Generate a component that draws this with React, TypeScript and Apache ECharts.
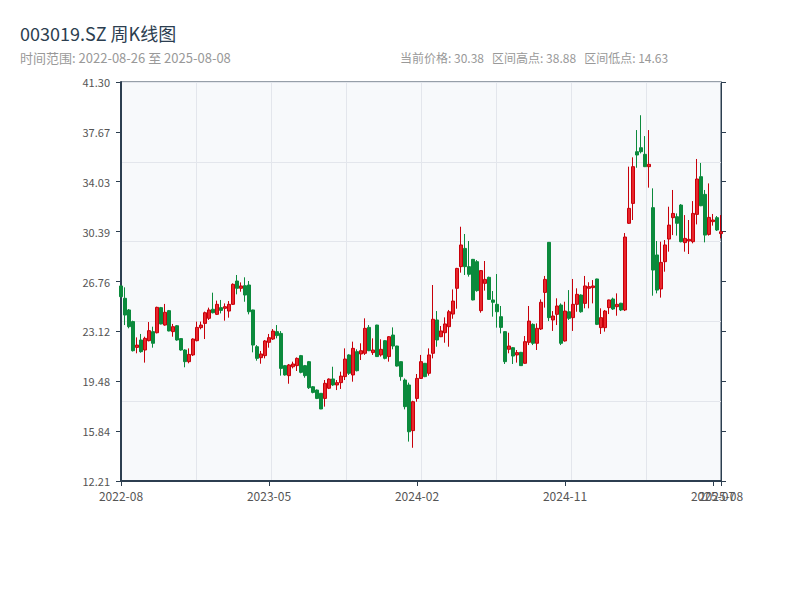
import React, { useEffect, useRef } from "react";
import * as echarts from "echarts";

const startDate = "2022-08-26";
const endDate = "2025-08-08";
// weeks without any trading day (holiday weeks)
const skippedWeeks = ["2022-10-07", "2023-01-27", "2023-10-06", "2024-02-16"];

const opens = [
  26.43, 25.53, 24.68, 23.83, 21.95, 22.49, 21.76, 22.44, 23.1, 23.02,
  24.85, 23.58, 24.63, 23.1, 23.53, 22.59, 21.76, 20.91, 21.4, 22.44,
  23.39, 23.7, 24.07, 24.73, 24.36, 24.85, 24.8, 24.6, 25.09, 26.79,
  26.26, 26.45, 26.5, 24.68, 22.0, 21.2, 21.35, 22.32, 22.56, 23.1,
  22.97, 20.62, 19.89, 20.54, 20.62, 21.35, 20.62, 20.91, 19.08, 18.84,
  18.6, 18.23, 18.97, 19.65, 19.21, 19.38, 19.82, 21.4, 19.94, 21.64,
  21.47, 21.52, 23.41, 21.57, 23.58, 21.4, 22.44, 21.28, 22.85, 22.05,
  20.91, 19.57, 19.21, 15.88, 18.23, 19.69, 20.79, 20.06, 21.52, 23.95,
  22.73, 23.02, 23.46, 24.38, 26.26, 27.84, 29.17, 27.84, 28.37, 28.2,
  24.63, 26.62, 27.06, 25.41, 25.09, 24.19, 23.1, 21.81, 21.93, 21.4,
  21.59, 20.79, 22.32, 23.63, 22.25, 23.29, 25.96, 29.61, 23.95, 24.36,
  25.04, 22.42, 24.55, 24.12, 25.09, 25.77, 25.16, 26.26, 26.31, 26.94,
  23.39, 23.39, 24.85, 25.48, 24.92, 25.17, 24.68, 31.0, 32.45, 36.22,
  36.51, 36.03, 35.13, 32.14, 28.69, 26.21, 28.2, 29.85, 31.41, 31.48,
  32.33, 29.59, 29.71, 29.66, 31.65, 34.4, 33.11, 30.19, 31.12, 31.41,
  30.25,
];

const closes = [
  25.65, 24.31, 23.46, 21.71, 22.12, 21.64, 22.61, 23.17, 22.25, 24.87,
  23.66, 24.51, 23.15, 23.46, 22.49, 21.76, 20.91, 21.44, 22.56, 23.41,
  23.58, 24.48, 24.68, 24.48, 25.09, 24.65, 24.92, 25.09, 26.55, 26.26,
  26.43, 25.77, 24.55, 22.12, 21.15, 21.47, 22.42, 22.66, 23.14, 22.81,
  20.42, 19.94, 20.67, 20.74, 21.15, 20.13, 19.89, 19.01, 18.67, 18.23,
  17.46, 19.33, 19.64, 19.21, 19.38, 19.86, 21.1, 20.06, 21.88, 20.25,
  21.71, 23.34, 21.71, 21.76, 21.28, 21.81, 21.15, 22.73, 22.05, 20.59,
  19.82, 17.63, 15.8, 17.99, 19.69, 20.91, 19.82, 21.4, 24.0, 22.49,
  23.15, 23.66, 24.55, 25.33, 27.71, 29.42, 27.84, 27.28, 25.41, 26.09,
  27.55, 26.91, 25.45, 25.24, 24.55, 23.41, 20.91, 22.05, 21.32, 21.57,
  20.62, 22.37, 23.87, 22.25, 23.34, 25.24, 26.91, 24.12, 24.24, 24.97,
  22.25, 24.6, 24.07, 25.09, 25.82, 24.55, 26.43, 26.38, 26.43, 23.63,
  24.12, 24.6, 25.41, 24.75, 25.09, 24.68, 30.0, 32.09, 35.13, 35.98,
  36.22, 35.13, 35.3, 27.59, 26.13, 28.15, 29.42, 30.87, 31.72, 31.0,
  29.66, 29.9, 29.83, 31.72, 34.23, 32.28, 30.14, 31.43, 31.24, 30.51,
  30.38,
];

const lows = [
  25.6, 23.58, 23.34, 21.65, 21.52, 21.56, 20.84, 22.39, 21.93, 22.97,
  23.63, 23.53, 23.12, 22.73, 22.44, 21.71, 20.5, 20.79, 21.32, 22.39,
  23.27, 22.56, 23.95, 24.43, 24.31, 24.43, 23.9, 24.12, 25.04, 25.82,
  26.01, 25.28, 24.36, 21.59, 20.98, 20.76, 21.15, 21.93, 22.49, 22.61,
  19.89, 19.89, 19.3, 20.42, 20.23, 20.06, 19.74, 18.92, 18.6, 18.18,
  17.45, 17.63, 18.91, 19.14, 18.84, 18.92, 19.57, 19.94, 19.45, 20.2,
  21.03, 21.4, 21.68, 21.4, 21.25, 21.28, 21.08, 20.91, 21.81, 20.55,
  19.52, 17.43, 15.08, 14.63, 17.99, 19.65, 19.78, 19.89, 21.15, 22.0,
  22.7, 22.29, 22.0, 24.04, 24.77, 27.4, 27.23, 27.11, 25.38, 26.01,
  24.48, 26.09, 25.41, 24.19, 23.39, 22.97, 20.74, 21.52, 20.74, 20.84,
  20.6, 20.75, 22.12, 22.12, 21.76, 23.22, 24.85, 23.87, 23.15, 23.58,
  22.12, 22.37, 23.95, 23.15, 24.55, 24.48, 24.8, 24.8, 25.16, 23.58,
  22.93, 23.1, 24.38, 24.68, 24.26, 24.6, 24.6, 30.95, 31.24, 35.05,
  36.1, 35.1, 33.6, 25.72, 25.89, 25.58, 27.47, 28.93, 30.14, 30.1,
  29.61, 28.93, 28.76, 29.54, 30.92, 32.25, 29.61, 30.1, 30.83, 30.44,
  29.9,
];

const highs = [
  26.5, 26.33, 24.75, 23.9, 22.68, 22.93, 22.73, 23.8, 23.46, 24.92,
  24.9, 25.12, 24.68, 23.66, 23.58, 22.61, 21.81, 21.88, 22.61, 23.83,
  23.83, 24.56, 24.85, 25.94, 25.36, 25.41, 25.16, 25.33, 26.62, 27.23,
  26.69, 27.06, 26.79, 24.7, 22.12, 21.69, 22.49, 22.93, 23.29, 23.58,
  23.14, 20.67, 20.74, 20.91, 21.22, 21.4, 20.67, 20.96, 19.13, 18.88,
  18.62, 19.57, 19.69, 20.54, 19.57, 20.18, 21.88, 21.45, 22.37, 21.81,
  22.25, 24.07, 23.58, 22.61, 23.6, 22.54, 22.49, 22.78, 23.41, 22.07,
  20.93, 19.69, 19.38, 18.06, 20.01, 21.4, 20.81, 21.88, 26.5, 24.6,
  23.51, 24.14, 24.68, 26.18, 27.75, 30.75, 30.22, 29.71, 28.4, 28.32,
  27.59, 28.25, 27.11, 26.06, 27.3, 24.97, 23.14, 23.02, 21.98, 21.76,
  21.62, 22.78, 24.97, 23.7, 23.7, 25.45, 27.16, 29.63, 24.6, 25.53,
  25.16, 25.28, 26.13, 26.94, 26.26, 25.82, 27.16, 26.7, 26.86, 26.96,
  24.8, 24.68, 25.43, 25.58, 25.89, 25.2, 30.29, 35.13, 35.81, 37.8,
  38.88, 37.36, 37.8, 33.55, 29.71, 29.66, 29.78, 32.21, 33.43, 31.72,
  32.4, 31.6, 31.24, 32.62, 35.69, 35.4, 33.43, 33.91, 31.68, 31.53,
  31.6,
];

const yMin = 12.2075;
const yInterval = 3.63705;
const ySplits = 8;
const labelEvery = 37;

function buildDates(): string[] {
  const out: string[] = [];
  const skip = new Set(skippedWeeks);
  const end = Date.parse(endDate + "T00:00:00Z");
  for (let t = Date.parse(startDate + "T00:00:00Z"); t <= end; t += 7 * 86400000) {
    const s = new Date(t).toISOString().slice(0, 10);
    if (!skip.has(s)) out.push(s);
  }
  return out;
}

const FONT = "'Noto Sans CJK SC', 'Noto Sans', sans-serif";
const AXIS_DARK = "#2c3e50";
const GAP = "\u00a0\u00a0\u00a0";

export default function App() {
  const ref = useRef<HTMLDivElement>(null);

  useEffect(() => {
    document.body.style.margin = "0";
    if (!ref.current) return;
    const chart = echarts.init(ref.current, undefined, { renderer: "svg" });
    const dates = buildDates();
    const n = dates.length;
    const kdata = opens.map((o, i) => [o, closes[i], lows[i], highs[i]]);
    const current = closes[closes.length - 1];
    const hi = Math.max(...highs);
    const lo = Math.min(...lows);
    const yMax = yMin + yInterval * ySplits;
    const tickIdx = (i: number) => i % labelEvery === 0 || i === n - 1;
    const labelIdx = (i: number) => i % labelEvery === 0;
    const lastIdx = (i: number) => i === n - 1;
    const labelStyle = {
      formatter: (v: string) => v.slice(0, 7),
      color: "#555",
      fontSize: 12,
      fontFamily: FONT,
      hideOverlap: false,
    };

    chart.setOption({
      animation: false,
      textStyle: { fontFamily: FONT },
      title: {
        text: "003019.SZ 周K线图",
        subtext: `时间范围: ${dates[0]} 至 ${dates[n - 1]}`,
        left: 15,
        top: 19,
        itemGap: 9,
        textStyle: { fontSize: 18, fontWeight: "normal", color: AXIS_DARK, fontFamily: FONT },
        subtextStyle: { fontSize: 13, color: "#999", fontFamily: FONT },
      },
      graphic: [
        {
          type: "text",
          left: 400,
          top: 51,
          style: {
            text: `当前价格: ${current.toFixed(2)}${GAP}区间高点: ${hi.toFixed(2)}${GAP}区间低点: ${lo.toFixed(2)}`,
            fill: "#999",
            font: `12px ${FONT}`,
          },
        },
      ],
      grid: {
        left: 121,
        right: 79,
        top: 82,
        bottom: 119,
        show: true,
        backgroundColor: "#f7f9fb",
        borderColor: AXIS_DARK,
        borderWidth: 1,
      },
      xAxis: [
        {
          type: "category",
          data: dates,
          boundaryGap: false,
          axisLine: { lineStyle: { color: AXIS_DARK, width: 2 } },
          axisTick: { show: true, interval: tickIdx, length: 5, lineStyle: { color: AXIS_DARK } },
          axisLabel: { ...labelStyle, interval: labelIdx },
          splitLine: { show: false },
        },
        {
          type: "value",
          min: 0,
          max: 8,
          interval: 1,
          position: "bottom",
          axisLine: { show: false },
          axisTick: { show: false },
          axisLabel: { show: false },
          splitLine: { show: true, lineStyle: { color: "#e3e6ec", width: 1 } },
        },
        {
          type: "category",
          data: dates,
          boundaryGap: false,
          position: "bottom",
          axisLine: { show: false },
          axisTick: { show: false },
          axisLabel: { ...labelStyle, interval: lastIdx, showMaxLabel: true, showMinLabel: false },
          splitLine: { show: false },
        },
      ],
      yAxis: [
        {
          type: "value",
          min: yMin,
          max: yMax,
          interval: yInterval,
          position: "left",
          axisLine: { show: true, lineStyle: { color: AXIS_DARK, width: 2 } },
          axisTick: { show: true, length: 5, lineStyle: { color: AXIS_DARK } },
          axisLabel: {
            formatter: (v: number) => v.toFixed(2),
            color: "#555",
            fontSize: 11,
            margin: 11,
            fontFamily: FONT,
          },
          splitLine: { show: false },
        },
        {
          type: "value",
          min: yMin,
          max: yMax,
          interval: yInterval,
          position: "right",
          axisLine: { show: true, lineStyle: { color: AXIS_DARK, width: 1 } },
          axisTick: { show: true, length: 5, lineStyle: { color: AXIS_DARK } },
          axisLabel: { show: false },
          splitLine: { show: false },
        },
        {
          type: "value",
          min: 0,
          max: 5,
          interval: 1,
          position: "left",
          axisLine: { show: false },
          axisTick: { show: false },
          axisLabel: { show: false },
          splitLine: { show: true, lineStyle: { color: "#e3e6ec", width: 1 } },
        },
      ],
      series: [
        {
          type: "candlestick",
          xAxisIndex: 0,
          yAxisIndex: 0,
          data: kdata,
          barWidth: 3,
          clip: false,
          itemStyle: {
            color: "#e8262c",
            color0: "#0b8a3c",
            borderColor: "#c8000a",
            borderColor0: "#0b8a3c",
            borderWidth: 1,
          },
        },
      ],
    });
    return () => chart.dispose();
  }, []);

  return <div ref={ref} style={{ width: 800, height: 600 }} />;
}
